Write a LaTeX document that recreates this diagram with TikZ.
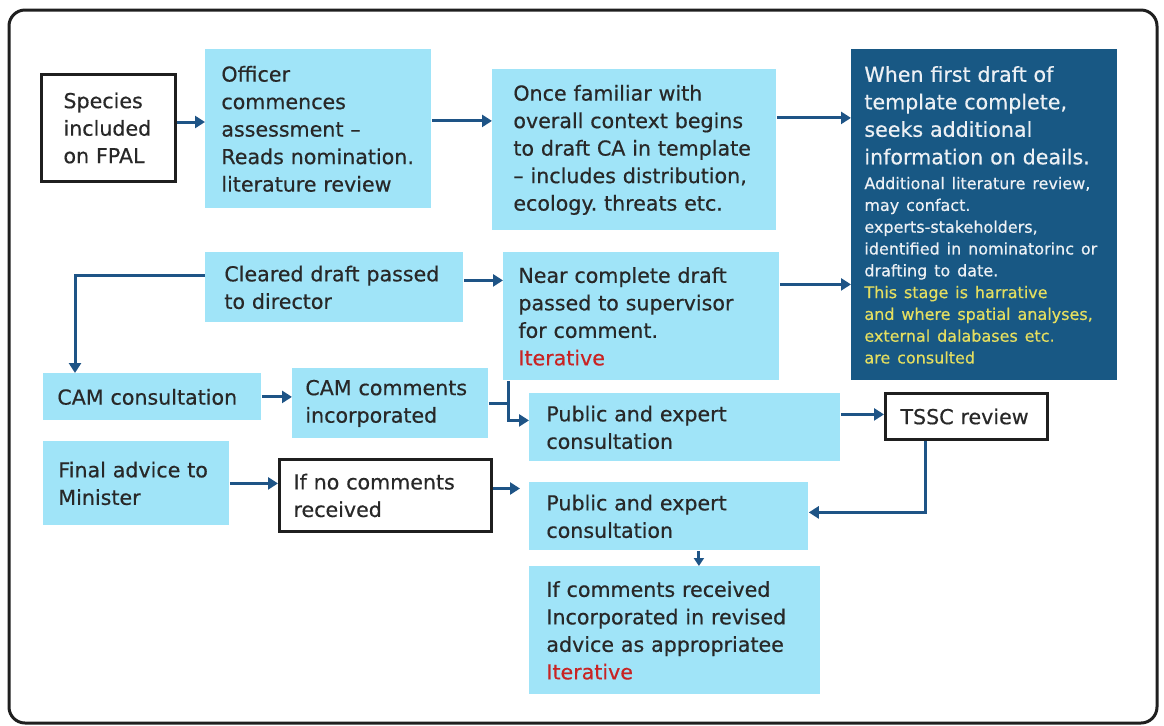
\documentclass[tikz,border=0pt]{standalone}
\usepackage{fontspec}
\setmainfont{DejaVu Sans}[UprightFeatures={FakeBold=0.5}]
\usepackage{tikz}
\usetikzlibrary{arrows.meta,positioning}
\usepackage{xcolor}
\definecolor{boxblue}{RGB}{160,228,248}
\definecolor{deepblue}{RGB}{24,88,132}
\definecolor{linkblue}{RGB}{30,84,134}
\definecolor{inkgrey}{RGB}{40,40,40}
\definecolor{iterred}{RGB}{200,36,36}
\definecolor{notegold}{RGB}{228,222,96}
\definecolor{notewhite}{RGB}{236,240,244}
\frenchspacing

\begin{document}
\begin{tikzpicture}[x=0.5pt,y=-0.5pt,
	box/.style = {fill=boxblue, text=inkgrey, anchor=north west, align=left, inner xsep=0pt, inner ysep=0pt, font=\fontsize{10.3}{13.75}\selectfont},
	wbox/.style = {box, fill=white, draw=black!88, line width=1.5pt},
	link/.style = {draw=linkblue, line width=1.5pt},
	arr/.style = {link, -{Triangle[length=5pt,width=6pt]}}]
	\useasboundingbox (0,0) rectangle (1164,725);
	\fill[white] (0,0) rectangle (1164,725);
	\draw[line width=1.5pt, draw=black!88, rounded corners=8pt] (9,10) rectangle (1157,723);

	\node[wbox, minimum width=67pt, minimum height=53.5pt, text width=45pt] (species) at (40,73) {Species\\included\\on FPAL};
	\node[box, minimum width=113pt, minimum height=79.5pt, text width=97pt] (officer) at (205,49) {Officer\\commences\\assessment --\\Reads nomination.\\literature review};
	\node[box, minimum width=142pt, minimum height=80.5pt, text width=121pt] (once) at (492,69) {Once familiar with\\overall context begins\\to draft CA in template\\-- includes distribution,\\ecology. threats etc.};
	\node[box, fill=deepblue, text=notewhite, minimum width=133pt, minimum height=165.5pt, text width=120pt] (draft) at (851,49) {{When first draft of\\template complete,\\seeks additional\\information on deails.\par}\vspace{1.5pt}{\fontsize{8}{10.9}\selectfont Additional literature review,\\may confact.\\experts-stakeholders,\\identified in nominatorinc or\\drafting to date.\\\color{notegold}This stage is harrative\\and where spatial analyses,\\external dalabases etc.\\are consulted\par}};
	\node[box, minimum width=129pt, minimum height=35pt, text width=110pt] (cleared) at (205,252) {Cleared draft passed\\to director};
	\node[box, minimum width=138pt, minimum height=64pt, text width=123pt] (near) at (503,252) {Near complete draft\\passed to supervisor\\for comment.\\\textcolor{iterred}{Iterative}};
	\node[box, minimum width=109pt, minimum height=23.5pt, text width=95pt] (camcons) at (43,373) {CAM consultation};
	\node[box, minimum width=98pt, minimum height=35pt, text width=85pt] (camcom) at (292,368) {CAM comments\\incorporated};
	\node[box, minimum width=155.5pt, minimum height=34pt, text width=138.5pt] (public) at (529,393) {Public and expert\\consultation};
	\node[wbox, minimum width=81pt, minimum height=23pt, text width=66pt] (tssc) at (884,392) {TSSC review};
	\node[box, minimum width=93pt, minimum height=42pt, text width=78pt] (final) at (43,441) {Final advice to\\Minister};
	\node[wbox, minimum width=106pt, minimum height=36pt, text width=92pt] (nocomm) at (278,458) {If no comments\\received};
	\node[box, minimum width=139.5pt, minimum height=34pt, text width=122.5pt] (public2) at (529,482) {Public and expert\\consultation};
	\node[box, minimum width=145.5pt, minimum height=64pt, text width=128.5pt] (comm) at (529,566) {If comments received\\Incorporated in revised\\advice as appropriatee\\\textcolor{iterred}{Iterative}};

	\draw[arr] ([yshift=3pt]species.east) -- ([yshift=3pt]species.east -| officer.west);
	\draw[arr] ([yshift=4pt]officer.east) -- ([yshift=4pt]officer.east -| once.west);
	\draw[arr] ([yshift=16pt]once.east) -- ([yshift=16pt]once.east -| draft.west);
	\draw[arr] ([yshift=3.5pt]cleared.east) -- ([yshift=3.5pt]cleared.east -| near.west);
	\draw[arr] ([yshift=16pt]near.east) -- ([yshift=16pt]near.east -| draft.west);
	\draw[arr] ([yshift=6pt]cleared.west) -| ([xshift=16pt]camcons.north west);
	\draw[arr] (camcons.east) -- (camcons.east -| camcom.west);
	\coordinate (split) at ([xshift=2.5pt]near.south west);
	\draw[arr] (split) |- ([yshift=3.5pt]public.west);
	\draw[link] (camcom.east) -- (camcom.east -| split);
	\draw[arr] ([yshift=6.5pt]public.east) -- ([yshift=6.5pt]public.east -| tssc.west);
	\draw[arr] ([xshift=20.5pt]tssc.south west) |- ([yshift=2pt]public2.east);
	\draw[arr] (final.east) -- (final.east -| nocomm.west);
	\draw[arr, shorten >=4.5pt] ([yshift=3.5pt]nocomm.east) -- ([yshift=3.5pt]nocomm.east -| public2.west);
	\draw[link, -{Triangle[length=4pt,width=5pt]}] ([xshift=15pt]public2.south) -- ([xshift=15pt]public2.south |- comm.north);
\end{tikzpicture}
\end{document}
